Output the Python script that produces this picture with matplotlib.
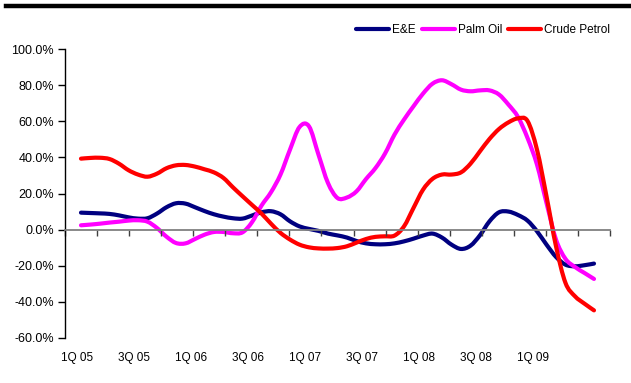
import numpy as np
import matplotlib
matplotlib.use("Agg")
import matplotlib.pyplot as plt
from matplotlib.lines import Line2D
from matplotlib.path import Path
from matplotlib.patches import PathPatch

plt.rcParams['font.family'] = ['Liberation Sans', 'DejaVu Sans']

# monthly year-on-year growth, Jan 05 .. Jul 09 (%)
ee = [9.4, 9.2, 9.0, 8.7, 7.9, 6.8, 6.1, 6.3, 8.9, 12.4, 14.6, 14.4, 12.4, 10.3,
      8.5, 7.2, 6.3, 6.1, 7.8, 9.6, 10.2, 8.5, 4.6, 1.8, 0.4, -0.7, -2.2, -3.2,
      -4.4, -6.3, -7.6, -8.1, -8.1, -7.6, -6.5, -5.0, -3.3, -2.2, -4.4, -8.3,
      -10.7, -8.9, -3.1, 4.6, 9.6, 10.0, 8.1, 5.0, -0.9, -8.3, -15.1, -19.4,
      -20.3, -19.7, -18.8]
palm_oil = [2.4, 2.8, 3.3, 3.9, 4.4, 5.0, 5.2, 4.4, 0.9, -3.9, -7.4, -7.6, -5.2,
            -2.8, -1.3, -1.3, -2.0, -1.5, 4.1, 13.3, 20.7, 30.5, 44.3, 56.8,
            57.2, 41.5, 25.8, 17.5, 17.8, 21.2, 28.0, 34.1, 42.1, 52.6, 60.9,
            68.3, 75.3, 80.8, 82.7, 80.5, 77.5, 76.6, 77.1, 77.1, 74.8, 69.2,
            62.4, 50.8, 36.0, 14.8, -5.5, -16.2, -20.7, -24.0, -27.3]
crude_petrol = [39.3, 39.7, 39.8, 39.1, 36.5, 32.9, 30.5, 29.3, 31.0, 34.0, 35.6,
                35.8, 34.9, 33.4, 31.7, 28.6, 23.4, 18.5, 13.7, 8.9, 3.3, -1.8,
                -5.5, -8.3, -9.8, -10.4, -10.5, -10.2, -9.2, -7.2, -5.2, -4.0,
                -3.7, -3.3, 1.8, 12.0, 22.1, 28.1, 30.5, 30.5, 31.7, 36.5, 43.4,
                50.2, 55.7, 59.4, 61.6, 60.2, 44.3, 18.5, -9.2, -29.5, -36.9,
                -41.0, -44.7]
quarter_labels = ['1Q 05', '3Q 05', '1Q 06', '3Q 06', '1Q 07',
                  '3Q 07', '1Q 08', '3Q 08', '1Q 09']

series = [('E&E', ee, '#000080'),
          ('Palm Oil', palm_oil, '#FF00FF'),
          ('Crude Petrol', crude_petrol, '#FF0000')]


def smooth_path(x, y):
    # cubic bezier through every point, like a "smoothed line" chart
    pts = np.column_stack([x, y]).astype(float)
    verts = [pts[0]]
    codes = [Path.MOVETO]
    n = len(pts)
    for i in range(n - 1):
        p0 = pts[max(i - 1, 0)]
        p1 = pts[i]
        p2 = pts[i + 1]
        p3 = pts[min(i + 2, n - 1)]
        c1 = p1 + (p2 - p0) / 6.0
        c2 = p2 - (p3 - p1) / 6.0
        verts += [c1, c2, p2]
        codes += [Path.CURVE4] * 3
    return Path(verts, codes)


months = np.arange(len(ee))

fig = plt.figure(figsize=(6.31, 3.83), dpi=100)
ax = fig.add_axes([0.103, 0.1175, 0.8637, 0.7545])

handles = []
for name, vals, col in series:
    ax.add_patch(PathPatch(smooth_path(months, vals), fill=False, edgecolor=col,
                           lw=3, capstyle='round', joinstyle='round'))
    handles.append(Line2D([], [], color=col, lw=3, solid_capstyle='round',
                          label=name))

x0, x1 = -1.684, 55.684
ax.set_xlim(x0, x1)
ax.set_ylim(-60, 100)
ax.set_yticks(np.arange(-60, 101, 20))
ax.set_yticklabels(['%.1f%%' % v for v in np.arange(-60, 101, 20)], fontsize=9)
ax.tick_params(axis='y', direction='out', length=5, width=1, pad=3, colors='black')

# category axis sits on the zero line, labels stay at the bottom
for s in ['top', 'right']:
    ax.spines[s].set_visible(False)
ax.spines['left'].set_linewidth(1)
ax.spines['bottom'].set_position(('data', 0))
ax.spines['bottom'].set_color('#808080')
ax.spines['bottom'].set_linewidth(1.3)
ax.set_xticks(np.linspace(x0, x1, 18))
ax.tick_params(axis='x', direction='out', length=4, width=1, color='#404040',
               labelbottom=False)

sec = ax.secondary_xaxis('bottom')
sec.set_xticks(np.arange(0, 54, 6) - 0.4)
sec.set_xticklabels(quarter_labels, fontsize=8.5)
sec.tick_params(length=0, pad=10)
sec.spines['bottom'].set_visible(False)

fig.legend(handles=handles, loc='center right', bbox_to_anchor=(0.967, 0.922),
           ncol=3, frameon=False, fontsize=8.5, handlelength=2.8,
           handletextpad=0.25, columnspacing=0.5, borderpad=0, borderaxespad=0)

# heavy rule under the header
fig.add_artist(Line2D([0.0095, 1.0], [0.984, 0.984], color='black', lw=3.2,
                      transform=fig.transFigure))

fig.savefig('out.png', dpi=100)
